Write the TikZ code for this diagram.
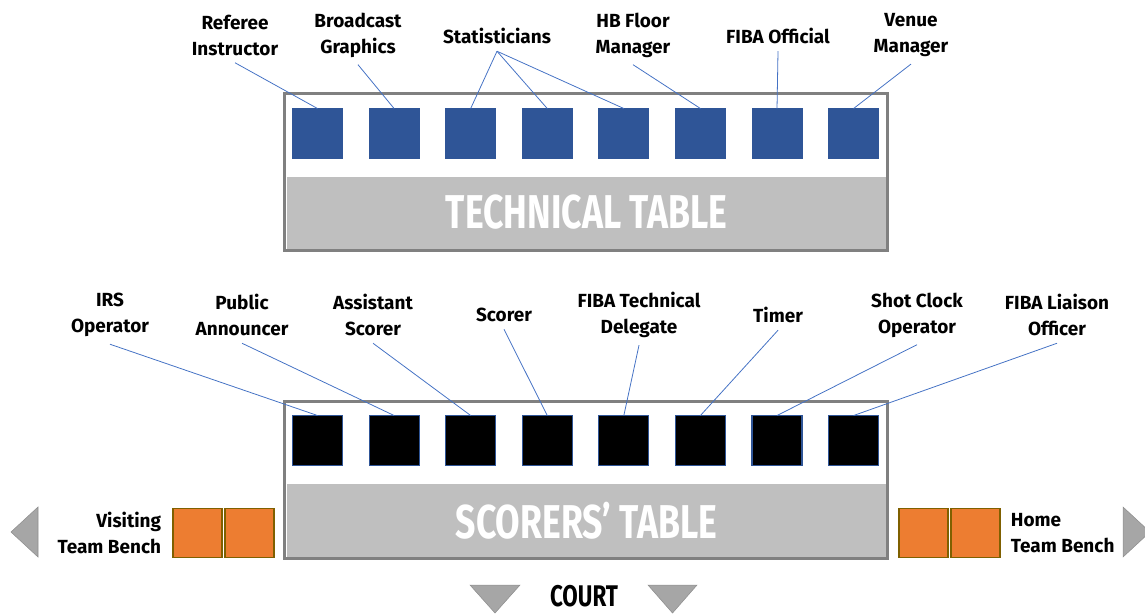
\documentclass[tikz,border=0pt]{standalone}
\usepackage{fontspec}
\setmainfont{Fira Sans}
\newfontfamily\titlefont[FakeStretch=0.75]{Fira Sans}
\usepackage{tikz}
\usetikzlibrary{positioning}
\definecolor{seatcolor}{RGB}{47,85,151}
\definecolor{wirecolor}{RGB}{68,114,196}
\definecolor{benchcolor}{RGB}{237,125,49}
\definecolor{benchedge}{RGB}{127,96,0}
\definecolor{framecolor}{RGB}{128,128,128}
\definecolor{bandcolor}{RGB}{191,191,191}
\definecolor{pointercolor}{RGB}{166,166,166}
\tikzset{
  tableframe/.style={draw=framecolor, line width=1.8pt, minimum width=12.06cm,
                     minimum height=3.14cm, inner sep=0pt},
  tableband/.style={fill=bandcolor, minimum width=11.98cm, minimum height=1.44cm,
                    inner sep=0pt, text=white,
                    font=\titlefont\bfseries\fontsize{27}{30}\selectfont},
  seat/.style={draw=#1, line width=0.5pt, fill=#1, minimum size=1cm,
               inner sep=0pt, outer sep=0pt},
  seat/.default=seatcolor,
  board/.style={draw=seatcolor, line width=0.6pt, fill=black, minimum size=1cm,
                inner sep=0pt, outer sep=0pt},
  bench/.style={draw=benchedge, line width=0.6pt, fill=benchcolor,
                minimum size=0.98cm, inner sep=0pt, outer sep=0pt},
  role/.style={align=center, inner xsep=2pt, inner ysep=4pt,
               font=\bfseries\fontsize{10.8}{14.8}\selectfont},
  wire/.style={draw=wirecolor, line width=0.45pt},
  pointer/.style={fill=pointercolor, draw=pointercolor!85!black, line width=0.3pt},
}
\begin{document}
\begin{tikzpicture}[x=0.02cm, y=-0.02cm]
  \useasboundingbox (0,0) rectangle (1145,613);

  % Technical table
  \node[tableframe] (techtable) at (586,172) {};
  \node[tableband] (techband) at (586.5,212.5) {\raisebox{-4pt}{TECHNICAL TABLE}};

  \node[seat] (t1) at (317.5,133.5) {};
  \node[seat, right=0.532cm of t1] (t2) {};
  \node[seat, right=0.532cm of t2] (t3) {};
  \node[seat, right=0.532cm of t3] (t4) {};
  \node[seat, right=0.532cm of t4] (t5) {};
  \node[seat, right=0.532cm of t5] (t6) {};
  \node[seat, right=0.532cm of t6] (t7) {};
  \node[seat, right=0.532cm of t7] (t8) {};

  \node[role] (referee) at (235,35) {Referee\\Instructor};
  \node[role] (broadcast) at (358,35) {Broadcast\\Graphics};
  \node[role] (stats) at (497,36) {Statisticians};
  \node[role] (floor) at (633,35) {HB Floor\\Manager};
  \node[role] (fiba) at (778,36) {FIBA Official};
  \node[role] (venue) at (911,35) {Venue\\Manager};

  \draw[wire] (referee.south) -- (t1.north);
  \draw[wire] (broadcast.south) -- (t2.north);
  \draw[wire] (stats.south) -- (t3.north);
  \draw[wire] (stats.south) -- (t4.north);
  \draw[wire] (stats.south) -- (t5.north);
  \draw[wire] (floor.south) -- (t6.north);
  \draw[wire] (fiba.south) -- (t7.north);
  \draw[wire] (venue.south) -- (t8.north);

  % Scorers' table
  \node[tableframe] (scoretable) at (586,480) {};
  \node[tableband, minimum height=1.46cm] (scoreband) at (586.5,520.5)
    {\raisebox{-4pt}{SCORERS’ TABLE}};

  \node[board] (s1) at (317.5,440.5) {};
  \node[board, right=0.532cm of s1] (s2) {};
  \node[board, right=0.532cm of s2] (s3) {};
  \node[board, right=0.532cm of s3] (s4) {};
  \node[board, right=0.532cm of s4] (s5) {};
  \node[board, right=0.532cm of s5] (s6) {};
  \node[board, right=0.532cm of s6] (s7) {};
  \node[board, right=0.532cm of s7] (s8) {};

  \node[role] (irs) at (110,315) {IRS\\Operator};
  \node[role] (announcer) at (242,315) {Public\\Announcer};
  \node[role] (assistant) at (373,315) {Assistant\\Scorer};
  \node[role] (scorer) at (504,315) {Scorer};
  \node[role] (delegate) at (639,315) {FIBA Technical\\Delegate};
  \node[role] (timer) at (778,315) {Timer};
  \node[role] (shotclock) at (917,315) {Shot Clock\\Operator};
  \node[role] (liaison) at (1057,315) {FIBA Liaison\\Officer};

  \draw[wire] (irs.south) -- (s1.north);
  \draw[wire] (announcer.south) -- (s2.north);
  \draw[wire] (assistant.south) -- (s3.north);
  \draw[wire] (scorer.south) -- (s4.north);
  \draw[wire] (delegate.south) -- (s5.north);
  \draw[wire] (timer.south) -- (s6.north);
  \draw[wire] (shotclock.south) -- (s7.north);
  \draw[wire] (liaison.south) -- (s8.north);

  % Team benches
  \node[bench] (visit2) at (249.5,533) {};
  \node[bench, left=0.06cm of visit2] (visit1) {};
  \node[bench] (home1) at (923.5,533) {};
  \node[bench, right=0.06cm of home1] (home2) {};

  \node[role, align=right, anchor=east] (visitlbl) at (165,533)
    {Visiting\\Team Bench};
  \node[role, align=left, anchor=west] (homelbl) at (1007,533)
    {Home\\Team Bench};

  % Pointers
  \draw[pointer] (11,532) -- (38,507) -- (38,557) -- cycle;
  \draw[pointer] (1150,532) -- (1123,507) -- (1123,557) -- cycle;
  \draw[pointer] (470,585) -- (520,585) -- (495,613) -- cycle;
  \draw[pointer] (648,585) -- (697,585) -- (672.5,613) -- cycle;

  \node[inner sep=0pt, font=\titlefont\bfseries\fontsize{17}{20}\selectfont]
    (court) at (584,596) {COURT};

\end{tikzpicture}
\end{document}
